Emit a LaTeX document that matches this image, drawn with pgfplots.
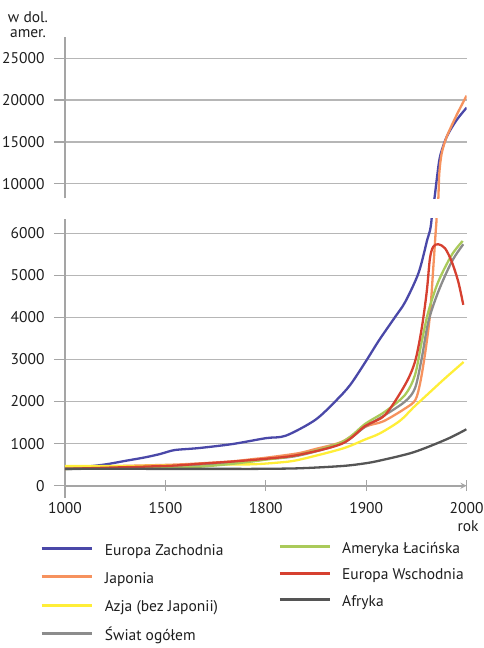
\documentclass[border=0pt]{standalone}
\usepackage{pgfplots}
\pgfplotsset{compat=1.18}
\usepackage{fontspec}
\setmainfont{PT Sans}
\definecolor{cEZ}{RGB}{74,72,168}
\definecolor{cJap}{RGB}{246,146,94}
\definecolor{cAzja}{RGB}{255,238,56}
\definecolor{cSwiat}{RGB}{140,140,140}
\definecolor{cAm}{RGB}{170,202,90}
\definecolor{cEW}{RGB}{214,64,48}
\definecolor{cAfr}{RGB}{85,85,85}
\definecolor{cGrid}{RGB}{182,182,182}
\definecolor{cAxis}{RGB}{165,165,165}
\definecolor{cText}{RGB}{30,30,30}
\newcommand{\lblfont}{\fontsize{15.5}{18}\selectfont}

\pgfplotsset{
  myaxis/.style={
    scale only axis, width=401.6pt,
    xmin=1000, xmax=2000,
    x coord trafo/.code={\pgfmathparse{ifthenelse(##1<1500,(##1-1000)/500,ifthenelse(##1<1800,1+(##1-1500)/300,ifthenelse(##1<1900,2+(##1-1800)/100,3+(##1-1900)/100)))}},
    axis y line=left,
    axis line style={cAxis, line width=1.7pt, -},
    ymajorgrids=true, xmajorgrids=false,
    grid style={cGrid, line width=1.3pt},
    tick align=outside, major tick length=11pt,
    tick style={cAxis, line width=1.3pt},
    tick label style={font=\lblfont, text=cText},
    yticklabel style={xshift=-6pt},
    scaled y ticks=false,
    /pgf/number format/assume math mode=true,
    /pgf/number format/1000 sep={},
    hide obscured x ticks=false, hide obscured y ticks=false,
    every axis plot/.append style={line width=2.3pt, smooth, tension=0.5, mark=none},
    legend cell align=left,
    legend image code/.code={\draw[##1, line width=3pt] (0pt,0.3em) -- (50pt,0.3em);},
  },
}

\begin{document}
\begin{tikzpicture}
\useasboundingbox (0,0) rectangle (483pt,648pt);

% ---------- upper panel ----------
\begin{axis}[myaxis,
  at={(65pt,449.7pt)}, anchor=south west,
  height=161.3pt,
  ymin=8254, ymax=27548,
  ytick={10000,15000,20000,25000},
  axis x line=none, xtick=\empty,
  legend style={at={(0.5311,-2.1324)}, anchor=north west, draw=none, fill=none,
    inner sep=0pt, row sep=11.3pt, font=\lblfont, text=cText,
    nodes={inner sep=0pt, text height=11pt, text depth=4pt},
    /tikz/every odd column/.append style={column sep=10.7pt}},
]
\addplot[cEZ, forget plot] coordinates {
(1900,2970)(1913,3464)(1929,4018)(1939,4375)(1952,5050)(1960.3,5800)(1965.2,6357)
(1967.9,8170)(1970.2,10440)(1973.5,13230)(1980.2,15620)(1990.1,17620)(2000,19090)};
\addplot[cJap, forget plot] coordinates {
(1939,1840)(1949,2040)(1954,2473)(1959,3200)(1963.5,4059)(1967,5247)(1969.2,6039)(1970.2,6450)
(1971.8,8170)(1972.8,11240)(1975.2,13640)(1980.2,15620)(1990.1,18220)(2000,20530)};
\addlegendimage{cAm, line width=3pt}
\addlegendentry{Ameryka Łacińska}
\addlegendimage{cEW, line width=3pt}
\addlegendentry{Europa Wschodnia}
\addlegendimage{cAfr, line width=3pt}
\addlegendentry{Afryka}
\end{axis}

% ---------- lower panel ----------
\begin{axis}[myaxis,
  at={(65pt,150.3pt)}, anchor=south west,
  height=278.7pt,
  ymin=-285, ymax=6340,
  ytick={0,1000,2000,3000,4000,5000,6000},
  axis x line=middle,
  xtick={1000,1500,1800,1900,2000},
  xticklabels={1000,1500,1800,1900,2000},
  xticklabel style={yshift=-8pt},
  legend style={at={(-0.06225,-0.16595)}, anchor=north west, draw=none, fill=none,
    inner sep=0pt, row sep=13.3pt, font=\lblfont, text=cText,
    nodes={inner sep=0pt, text height=11pt, text depth=4pt},
    /tikz/every odd column/.append style={column sep=11.7pt}},
]
\addplot[cEZ] coordinates {
(1000,435)(1100,452)(1200,505)(1300,590)(1400,675)(1475,755)(1500,790)(1530,850)
(1600,895)(1700,990)(1800,1130)(1820,1190)(1849,1560)(1869,2000)(1884,2394)(1900,2970)
(1913,3464)(1929,4018)(1939,4375)(1952,5050)(1960.3,5800)(1965.2,6357)(1967.9,8170)(1970.2,10440)};
\addlegendentry{Europa Zachodnia}
\addplot[cJap] coordinates {
(1000,440)(1500,495)(1600,530)(1700,580)(1764,635)(1800,665)(1832,770)(1849,870)
(1876,1046)(1899,1400)(1917,1530)(1939,1840)(1949,2040)(1954,2473)(1959,3200)
(1963.5,4059)(1967,5247)(1969.2,6039)(1970.2,6450)(1971.8,8170)};
\addlegendentry{Japonia}
\addplot[cAzja] coordinates {
(1000,465)(1300,468)(1500,478)(1600,490)(1700,505)(1764,510)(1811,547)(1832,611)
(1876,880)(1899,1100)(1913.7,1245)(1933.7,1545)(1947,1860)(1958.6,2116)(1978.5,2553)(1997,2940)};
\addlegendentry{Azja (bez Japonii)}
\addplot[cSwiat] coordinates {
(1000,390)(1500,460)(1600,500)(1700,545)(1764,587)(1800,630)(1832,713)(1876,1008)
(1899,1403)(1918.7,1681)(1938.6,2000)(1948.6,2316)(1955.3,3029)(1961.9,3900)
(1971.8,4612)(1985.2,5326)(1996.7,5740)};
\addlegendentry{Świat ogółem}
\addplot[cAm, forget plot] coordinates {
(1000,400)(1500,425)(1600,450)(1700,520)(1800,620)(1832,730)(1876,1040)(1899,1470)
(1918.7,1760)(1938.6,2157)(1948.6,2632)(1955.3,3424)(1961.9,4137)(1971.8,4850)
(1985.2,5485)(1996.1,5818)};
\addplot[cEW, forget plot] coordinates {
(1000,400)(1500,470)(1600,520)(1700,575)(1800,640)(1832,730)(1876,1000)(1899,1420)
(1918.7,1681)(1938.6,2394)(1948.6,2948)(1955.3,3742)(1960.3,4612)(1963.5,5406)
(1966.8,5682)(1971.8,5740)(1978.5,5644)(1985.2,5326)(1991.7,4850)(1996.7,4300)};
\addplot[cAfr, forget plot] coordinates {
(1000,405)(1500,400)(1700,400)(1764,400)(1832,413)(1876,468)(1899,532)(1914,600)
(1947,794)(1980,1103)(1999.8,1341)};
\end{axis}

\node[anchor=base, font=\lblfont, text=cText] at (468pt,116.3pt) {rok};
\node[anchor=base, font=\lblfont, text=cText] at (28pt,625.7pt) {w dol.};
\node[anchor=base, font=\lblfont, text=cText] at (28pt,610.7pt) {amer.};
\end{tikzpicture}
\end{document}
